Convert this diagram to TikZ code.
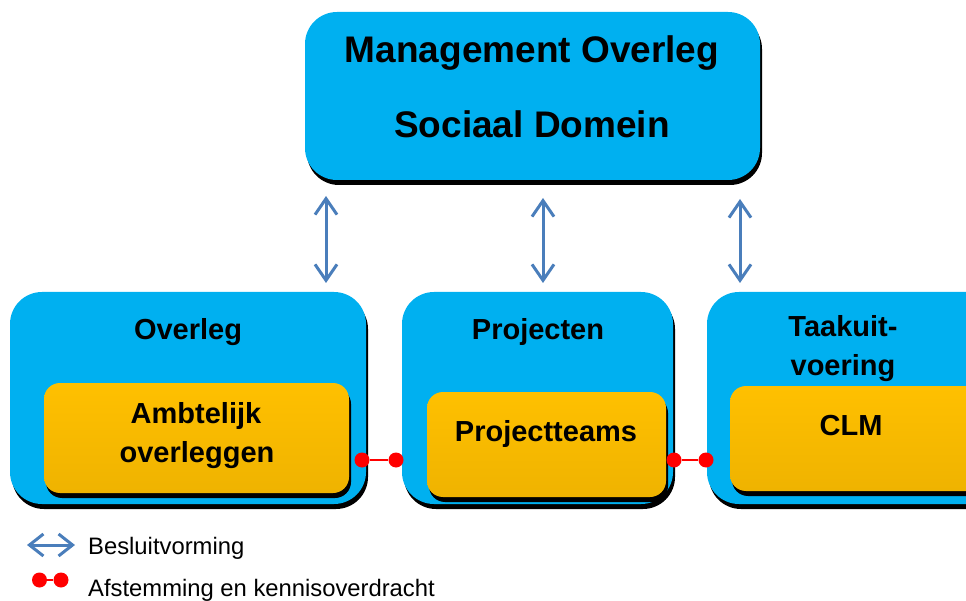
\documentclass[tikz,border=0pt]{standalone}
\usepackage{fontspec}
\setmainfont{Liberation Sans}
\usetikzlibrary{arrows.meta,shadows}
\definecolor{boxblue}{HTML}{00B0F0}
\definecolor{boxorange}{HTML}{FFC000}
\definecolor{boxorangedark}{HTML}{EFB300}
\definecolor{arrowblue}{HTML}{4A7EBB}
\definecolor{dotred}{HTML}{FF0000}
\begin{document}
\begin{tikzpicture}[x=1pt,y=-1pt,
  shadowed/.style={drop shadow={shadow xshift=2pt,shadow yshift=-5pt,opacity=1,fill=black}},
  bluebox/.style={rectangle,rounded corners=32pt,fill=boxblue,draw=none,inner sep=0pt,shadowed},
  orangebox/.style={rectangle,rounded corners=16pt,top color=boxorange,bottom color=boxorangedark,draw=none,inner sep=0pt,shadowed},
  bigtxt/.style={anchor=base,font=\bfseries\fontsize{37}{44}\selectfont,inner sep=0pt},
  boxtxt/.style={anchor=base,font=\bfseries\fontsize{29}{34}\selectfont,inner sep=0pt},
  legtxt/.style={anchor=base west,font=\fontsize{23.8}{28}\selectfont,inner sep=0pt},
  decide/.style={draw=arrowblue,line width=3pt,{Straight Barb[length=16pt,width=22pt]}-{Straight Barb[length=16pt,width=22pt]}},
  reddot/.style={circle,fill=dotred,draw=none,minimum size=15pt,inner sep=0pt},
  redlink/.style={draw=dotred,line width=2.2pt}]
\useasboundingbox (0,0) rectangle (966,601);
\clip (0,0) rectangle (966,601);
% top box
\node[bluebox,minimum width=455pt,minimum height=168pt] (top) at (532.5,96) {};
\node[bigtxt] (t1) at (532,63) {Management Overleg};
\node[bigtxt] (t2) at (532,138) {Sociaal Domein};
% lower boxes
\node[bluebox,minimum width=356pt,minimum height=212pt] (b1) at (188,398) {};
\node[bluebox,minimum width=271pt,minimum height=212pt] (b2) at (537.5,398) {};
\node[bluebox,minimum width=300pt,minimum height=212pt] (b3) at (857,398) {};
\node[boxtxt] (l1) at (188,340) {Overleg};
\node[boxtxt] (l2) at (538,340) {Projecten};
\node[boxtxt] (l3a) at (843,337) {Taakuit-};
\node[boxtxt] (l3b) at (843,375) {voering};
% inner boxes
\node[orangebox,minimum width=305pt,minimum height=110pt] (i1) at (196.5,438) {};
\node[orangebox,minimum width=239pt,minimum height=105pt] (i2) at (546.5,444.5) {};
\node[orangebox,minimum width=280pt,minimum height=105pt] (i3) at (870,438.5) {};
\node[boxtxt] (it1a) at (196,423) {Ambtelijk};
\node[boxtxt] (it1b) at (197,462) {overleggen};
\node[boxtxt] (it2) at (546,441) {Projectteams};
\node[boxtxt] (it3) at (851,435) {CLM};
% decision arrows
\coordinate (a1t) at (326,196); \coordinate (a1b) at (326,283);
\coordinate (a2t) at (543,198); \coordinate (a2b) at (543,283);
\coordinate (a3t) at (740,199); \coordinate (a3b) at (740,283);
\draw[decide] (a1t) -- (a1b);
\draw[decide] (a2t) -- (a2b);
\draw[decide] (a3t) -- (a3b);
% red links
\node[reddot] (d1) at (362,460) {};
\node[reddot] (d2) at (396,460) {};
\node[reddot] (d3) at (674,460) {};
\node[reddot] (d4) at (706,460) {};
\draw[redlink] (d1) -- (d2);
\draw[redlink] (d3) -- (d4);
% legend
\coordinate (la) at (27,545); \coordinate (lb) at (75,545);
\draw[decide,{Straight Barb[length=14pt,width=22pt]}-{Straight Barb[length=14pt,width=22pt]}] (la) -- (lb);
\node[reddot,minimum size=15pt] (ld1) at (39.5,580) {};
\node[reddot,minimum size=15pt] (ld2) at (61,580) {};
\draw[redlink] (ld1) -- (ld2);
\node[legtxt] (lt1) at (88,554) {Besluitvorming};
\node[legtxt] (lt2) at (88,596) {Afstemming en kennisoverdracht};
\end{tikzpicture}
\end{document}
